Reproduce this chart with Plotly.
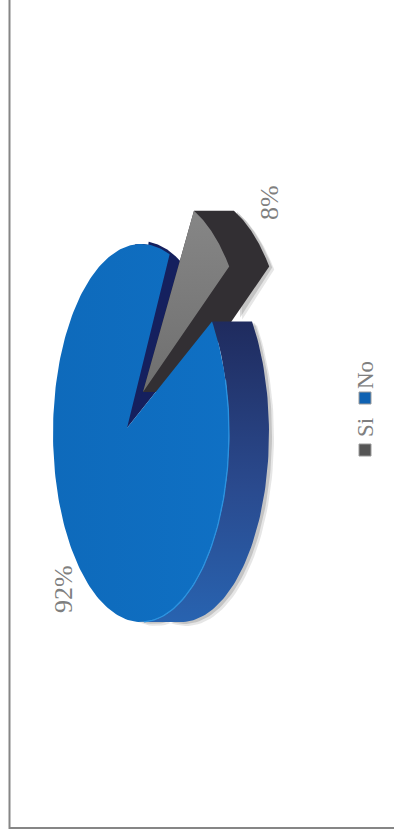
import numpy as np
import plotly.graph_objects as go

# --- data ---
categories = ["Si", "No"]
shares = [8, 92]
pct_labels = ["8%", "92%"]

# --- geometry of the drawing (page pixels) ---
W, H = 394, 834
CX, CY, RX, RY = 141, 433, 88, 189
DEPTH = 40
BLUE_APEX = (127, 428)
GREY_APEX = (143, 392)
GREY_SHIFT = (20, -47)
START = 22.0
GAP = 3.0


def arc(t0, t1, dx=0, dy=0, n=80):
    t = np.radians(np.linspace(t0, t1, n))
    return CX + dx + RX * np.sin(t), CY + dy - RY * np.cos(t)


def poly(xs, ys, color=None, grad=None, opacity=1):
    kw = dict(x=list(xs), y=list(ys), mode="lines", fill="toself", line=dict(width=0),
              hoverinfo="skip", showlegend=False, opacity=opacity)
    if grad:
        kw["fillgradient"] = grad
    else:
        kw["fillcolor"] = color
    return go.Scatter(**kw)


span = shares[0] / sum(shares) * 360
g0, g1 = START, START + span
b0, b1 = g1 + GAP, g0 - GAP + 360

fig = go.Figure()

# soft shadow of the silhouette
for off, op in ((5, 0.18), (3, 0.30)):
    x1, y1 = arc(g1 + GAP, 215, DEPTH + off, off - 1)
    fig.add_trace(poly(np.r_[x1, x1[::-1] - 30], np.r_[y1, y1[::-1]], "#777777", opacity=op))
    x1, y1 = arc(g0, g1, DEPTH + off, off - 2)
    x1, y1 = x1 + GREY_SHIFT[0], y1 + GREY_SHIFT[1]
    fig.add_trace(poly(np.r_[x1, x1[-1] - 32], np.r_[y1, y1[-1] + 50], "#777777", opacity=op))

# inner wall seen through the notch
nx, ny = arc(g0 - GAP - 23, g1 + GAP)
fig.add_trace(poly(
    np.r_[BLUE_APEX[0], nx, BLUE_APEX[0]],
    np.r_[BLUE_APEX[1], ny, BLUE_APEX[1]], "#15205e"))
ax, ay = arc(g0 - GAP - 14, g0 + 8, 0, -3)
fig.add_trace(poly(np.r_[BLUE_APEX[0], ax, ax[-1]], np.r_[BLUE_APEX[1], ay, ay[-1] + 30], "#15205e"))

# dark extruded side of the small slice
gx, gy = arc(g0, g1, *GREY_SHIFT)
fig.add_trace(poly(
    np.r_[GREY_APEX[0], gx[0], gx + DEPTH, GREY_APEX[0] + DEPTH],
    np.r_[GREY_APEX[1], gy[0], gy, GREY_APEX[1]], "#322f33"))

# blue side wall
ox, oy = arc(b0, 180, DEPTH)
ix, iy = arc(180, b0)
fig.add_trace(poly(
    np.r_[ox, ix], np.r_[oy, iy],
    grad=dict(type="vertical", colorscale=[[0, "#2863b0"], [0.45, "#2a4a8e"], [1, "#1f2b5e"]])))

# blue top face
bx, by = arc(b0, b1, n=240)
fig.add_trace(poly(
    np.r_[BLUE_APEX[0], bx, BLUE_APEX[0]],
    np.r_[BLUE_APEX[1], by, BLUE_APEX[1]],
    grad=dict(type="horizontal", colorscale=[[0, "#0e6abb"], [1, "#0f70c4"]])))

# light rim of the blue face
rx_, ry_ = arc(b0 + 20, 178)
fig.add_trace(go.Scatter(x=rx_, y=ry_, mode="lines", line=dict(color="#2b93e0", width=1.3),
                         hoverinfo="skip", showlegend=False))

# grey top face
fig.add_trace(poly(
    np.r_[GREY_APEX[0], gx, GREY_APEX[0]],
    np.r_[GREY_APEX[1], gy, GREY_APEX[1]],
    grad=dict(type="vertical", colorscale=[[0, "#6f6f6f"], [1, "#868686"]])))

# frame
fig.add_trace(go.Scatter(x=[9.5, 9.5, W], y=[0, 828, 828], mode="lines",
                         line=dict(color="#868686", width=2), hoverinfo="skip", showlegend=False))

# legend markers
legend_y = [450, 398]
fig.add_trace(go.Scatter(x=[365, 365], y=legend_y, mode="markers",
                         marker=dict(symbol="square", size=12, color=["#555555", "#0f62b2"],
                                     line=dict(color="#9a9a9a", width=1)),
                         hoverinfo="skip", showlegend=False))

TEXT = dict(family="Liberation Serif", color="#7f7f7f")
notes = [
    (269, 203, pct_labels[0], 26),
    (63, 589, pct_labels[1], 26),
    (365, 428, categories[0], 23),
    (365, 375, categories[1], 23),
]
for x, y, s, size in notes:
    fig.add_annotation(x=x, y=y, text=s, textangle=-90, showarrow=False,
                       font=dict(size=size, **TEXT), xanchor="center", yanchor="middle")

fig.update_layout(
    width=W, height=H, margin=dict(l=0, r=0, t=0, b=0),
    paper_bgcolor="white", plot_bgcolor="white", showlegend=False,
    xaxis=dict(range=[0, W], visible=False, fixedrange=True),
    yaxis=dict(range=[H, 0], visible=False, fixedrange=True),
)
fig.write_html("out.html", config=dict(displayModeBar=False),
               post_script="document.body.style.margin='0';document.documentElement.style.overflow='hidden';")
